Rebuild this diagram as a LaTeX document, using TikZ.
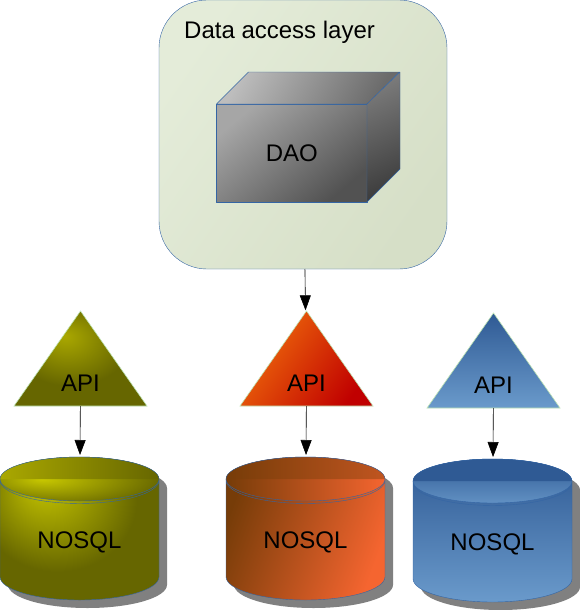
\documentclass[tikz,border=0pt]{standalone}
\usepackage{fontspec}
\setmainfont{Liberation Sans}
\usetikzlibrary{arrows.meta,positioning,shapes.geometric,shadows,calc}
\definecolor{edge}{HTML}{3465A4}
\definecolor{apiedge}{HTML}{BFE5B5}
\definecolor{layerhi}{HTML}{E4ECD9}
\definecolor{layerlo}{HTML}{D6DFC7}
\definecolor{olivehi}{HTML}{C8C800}
\definecolor{olivetop}{HTML}{AAA800}
\definecolor{olivelo}{HTML}{666600}
\definecolor{rusthi}{HTML}{F56530}
\definecolor{rustlo}{HTML}{763C08}
\definecolor{rusttop}{HTML}{C05520}
\definecolor{firehi}{HTML}{F06E0C}
\definecolor{firelo}{HTML}{C00000}
\definecolor{bluehi}{HTML}{6A9ACB}
\definecolor{bluelo}{HTML}{2F5A94}
\pgfdeclareradialshading{apiolive}{\pgfpoint{-6bp}{12bp}}{color(0bp)=(olivetop); color(22bp)=(olivelo); color(60bp)=(olivelo)}
\pgfdeclareradialshading{dbolive}{\pgfpoint{-12bp}{17bp}}{color(0bp)=(olivehi); color(25bp)=(olivelo); color(60bp)=(olivelo)}
\pgfdeclareradialshading{capolive}{\pgfpoint{-12bp}{0bp}}{color(0bp)=(olivehi); color(32bp)=(olivelo); color(60bp)=(olivelo)}
\begin{document}
\begin{tikzpicture}[x=1pt, y=-1pt, font=\fontsize{24}{28}\selectfont,
  layerbox/.style={draw=edge, rounded corners=48pt, minimum width=288pt, minimum height=269pt, outer sep=0pt, left color=layerhi, right color=layerlo, shading angle=55},
  apibox/.style={draw=apiedge, line width=0.6pt, isosceles triangle, isosceles triangle stretches, shape border rotate=90, minimum width=133pt, minimum height=95pt, inner sep=0pt, outer sep=0pt, anchor=south, text height=27pt, text depth=0pt},
  dbbox/.style={draw=edge, cylinder, shape border rotate=90, aspect=0.553, minimum width=159pt, minimum height=143pt, inner sep=0pt, outer sep=0pt, anchor=south, text height=17pt, text depth=0pt, drop shadow={shadow xshift=8pt, shadow yshift=-8pt, fill=black!50, opacity=1}},
  face/.style={draw=edge, line join=round},
  arr/.style={-{Triangle[length=15pt, width=11pt]}, line width=0.6pt, shorten >=2pt}]
\useasboundingbox (0,0) rectangle (579,610);
\node[layerbox] (layer) at (303,134.5) {};
\node[below right=21pt and 25pt of layer.north west, inner sep=0pt] (title) {Data access layer};
% cube
\node[face, minimum width=150.5pt, minimum height=98pt, outer sep=0pt, inner sep=0pt, left color=black!35, right color=black!68, shading angle=40] (dao) at (291.75,153) {DAO};
\path[face, left color=black!26, right color=black!58, shading angle=60] (dao.north west) -- ++(32,-32) -- ++(151,0) -- (dao.north east) -- cycle;
\path[face, left color=black!52, right color=black!76, shading angle=25] (dao.north east) -- ++(33,-32) -- ++(0,97) -- (dao.south east) -- cycle;
% api triangles
\node[apibox, shading=apiolive] (api1) at (80.5,406) {API};
\node[apibox, left color=firehi, right color=firelo, shading angle=55] (api2) at (306.5,406) {API};
\node[apibox, top color=bluelo, bottom color=bluehi] (api3) at (493.5,408) {API};
% databases
\node[dbbox, shading=dbolive] (db1) at (79.5,600) {NOSQL};
\node[dbbox, left color=rustlo, right color=rusthi, shading angle=70] (db2) at (305.5,600) {NOSQL};
\node[dbbox, top color=bluelo, bottom color=bluehi] (db3) at (492.5,602) {NOSQL};
% lids, upper half first shaded on its own
\path[shading=capolive] ($(db1.north)+(0,22)$) ellipse [x radius=79.5, y radius=22];
\path[left color=olivetop, right color=olivelo] ($(db1.north)+(-79.5,22)$) arc [start angle=180, end angle=360, x radius=79.5, y radius=22] -- cycle;
\draw[edge] ($(db1.north)+(0,22)$) ellipse [x radius=79.5, y radius=22];
\path[left color=rustlo, right color=rusthi] ($(db2.north)+(0,22)$) ellipse [x radius=79.5, y radius=22];
\path[left color=rustlo, right color=rusttop] ($(db2.north)+(-79.5,22)$) arc [start angle=180, end angle=360, x radius=79.5, y radius=22] -- cycle;
\draw[edge] ($(db2.north)+(0,22)$) ellipse [x radius=79.5, y radius=22];
\path[top color=bluelo, bottom color=bluehi!85!bluelo] ($(db3.north)+(0,22)$) ellipse [x radius=79.5, y radius=22];
\path[fill=bluelo] ($(db3.north)+(-79.5,22)$) arc [start angle=180, end angle=360, x radius=79.5, y radius=22] -- cycle;
\draw[edge] ($(db3.north)+(0,22)$) ellipse [x radius=79.5, y radius=22];
\foreach \a/\b in {layer/api2, api1/db1, api2/db2, api3/db3} \draw[arr] (\a) -- (\b);
\end{tikzpicture}
\end{document}
